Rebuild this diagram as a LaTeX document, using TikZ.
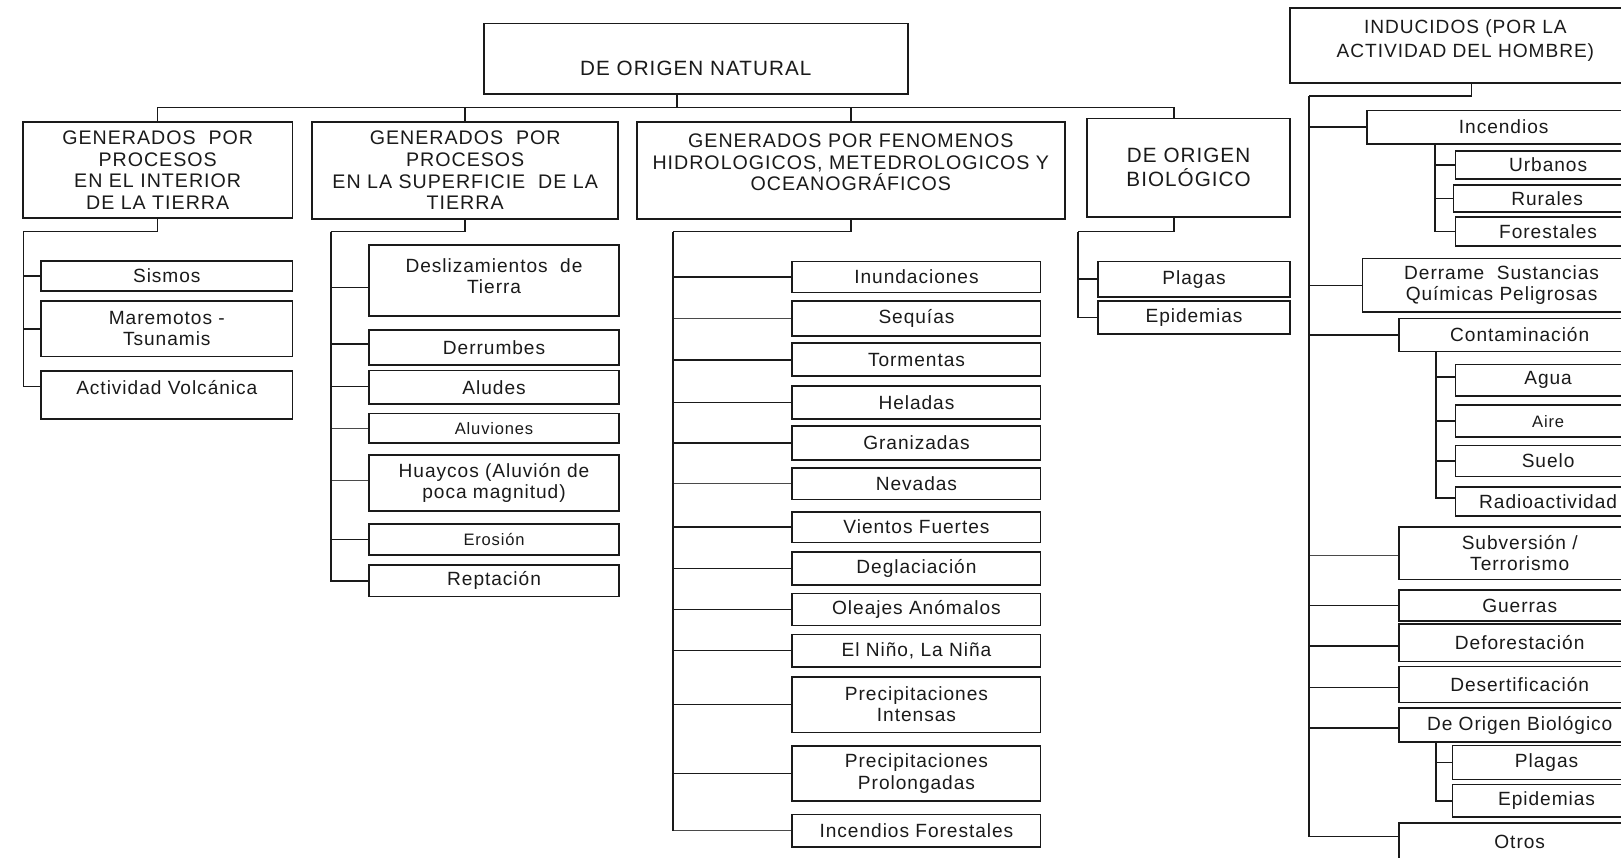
\documentclass[tikz,border=0pt]{standalone}
\usepackage{fontspec}
\setmainfont{Liberation Sans}[LetterSpace=5]
\definecolor{linec}{HTML}{1A1A1A}
\definecolor{txtc}{HTML}{1A1A1A}
\definecolor{thinc}{HTML}{4A4A4A}
\newcommand\fleaf{\fontsize{18.5}{20.5}\selectfont}
\newcommand\fsmall{\fontsize{16}{18}\selectfont}
\newcommand\fcat{\fontsize{19}{21}\selectfont}
\newcommand\fhdr{\fontsize{20}{23.5}\selectfont}
\newcommand\find{\fontsize{18.5}{23.5}\selectfont}
% #1 options, #2 name, #3 x1, #4 y1, #5 x2, #6 y2, #7 text
\newcommand\bx[7][]{\node[box,minimum width={(#5)-(#3)},minimum height={(#6)-(#4)},#1] (#2) at ({((#3)+(#5))/2},{((#4)+(#6))/2}) {#7};}
\begin{document}
\begin{tikzpicture}[x=1pt,y=-1pt,
  box/.style={draw=linec,line width=1.6pt,rectangle,inner sep=0pt,align=center,text=txtc,font=\fleaf},
  conn/.style={draw=linec,line width=1.6pt},
  thinconn/.style={draw=thinc,line width=1pt},
  lbl/.style={align=center,text=txtc,inner sep=0pt}]
\fill[white] (0,0) rectangle (1568,829);
\useasboundingbox (0,0) rectangle (1568,829);

% headers
\bx[label={[lbl,font=\fhdr,yshift=-9pt]center:DE ORIGEN NATURAL}]{nat}{468}{22.6}{878}{91}{}
\bx[label={[lbl,font=\find,yshift=4.5pt]center:{INDUCIDOS (POR LA\\ACTIVIDAD DEL HOMBRE)}}]{ind}{1248}{8}{1587}{80}{}

% categories
\bx[font=\fcat]{g1}{22}{118}{283}{211}{GENERADOS\ \ POR\\PROCESOS\\EN EL INTERIOR\\DE LA TIERRA}
\bx[font=\fcat]{g2}{302}{118}{598}{212}{GENERADOS\ \ POR\\PROCESOS\\EN LA SUPERFICIE\ \ DE LA\\TIERRA}
\bx[label={[lbl,font=\fcat,yshift=8pt]center:{GENERADOS POR FENOMENOS\\HIDROLOGICOS, METEDROLOGICOS Y\\OCEANOGRÁFICOS}}]{g3}{616}{118}{1030}{212}{}
\bx[font=\fhdr]{g4}{1051.5}{114.5}{1248}{210}{DE ORIGEN\\BIOLÓGICO}

% column 1
\bx{sis}{39.7}{252.5}{283}{281.5}{Sismos}
\bx{mar}{39.7}{291}{283}{345}{Maremotos -\\Tsunamis}
\bx[label={[lbl,font=\fleaf,yshift=7pt]center:Actividad Volcánica}]{volc}{39.7}{359}{283}{405}{}

% column 2
\bx[label={[lbl,font=\fleaf,yshift=4pt]center:{Deslizamientos\ \ de\\Tierra}}]{desl}{357}{237}{598.8}{305.7}{}
\bx{derr}{357}{319}{598.8}{353}{Derrumbes}
\bx{alud}{357}{358.5}{598.8}{391}{Aludes}
\bx[font=\fsmall]{aluv}{357}{400}{598.8}{428.7}{Aluviones}
\bx{huay}{357}{440}{598.8}{494}{Huaycos (Aluvión de\\poca magnitud)}
\bx[font=\fsmall]{eros}{357}{507}{598.8}{537}{Erosión}
\bx{rept}{357}{546.5}{598.8}{577}{Reptación}

% column 3
\bx{inu}{766.4}{253}{1006.6}{283}{Inundaciones}
\bx{seq}{766.4}{291}{1006.6}{324.7}{Sequías}
\bx{torm}{766.4}{332}{1006.6}{364}{Tormentas}
\bx{hel}{766.4}{373.4}{1006.6}{405}{Heladas}
\bx{gran}{766.4}{412}{1006.6}{445}{Granizadas}
\bx{nev}{766.4}{453}{1006.6}{483}{Nevadas}
\bx{vien}{766.4}{495}{1006.6}{524.6}{Vientos Fuertes}
\bx{degl}{766.4}{534}{1006.6}{565.6}{Deglaciación}
\bx{olea}{766.4}{574}{1006.6}{605}{Oleajes Anómalos}
\bx{nino}{766.4}{613.6}{1006.6}{645}{El Niño, La Niña}
\bx{pint}{766.4}{654.6}{1006.6}{708.4}{Precipitaciones\\Intensas}
\bx{pprol}{766.4}{721.6}{1006.6}{774.8}{Precipitaciones\\Prolongadas}
\bx{incf}{766.4}{787.7}{1006.6}{819.6}{Incendios Forestales}

% column 4
\bx{plag}{1062}{253}{1248}{287}{Plagas}
\bx{epid}{1062}{291}{1248}{323}{Epidemias}

% right column
\bx{inc}{1322}{107}{1587}{139}{Incendios}
\bx{urb}{1408}{146}{1587}{173}{Urbanos}
\bx{rur}{1406}{179}{1587}{205}{Rurales}
\bx{fore}{1408}{210}{1587}{238}{Forestales}
\bx{derra}{1318}{250}{1587}{302}{Derrame\ \ Sustancias\\Químicas Peligrosas}
\bx{cont}{1353}{308}{1587}{340}{Contaminación}
\bx{agua}{1408}{352.6}{1587}{383}{Agua}
\bx[font=\fsmall]{aire}{1408}{392}{1587}{423}{Aire}
\bx{suelo}{1408}{431}{1587}{461}{Suelo}
\bx{radio}{1408}{471}{1587}{499}{Radioactividad}
\bx{subv}{1353}{510}{1587}{560.6}{Subversión /\\Terrorismo}
\bx{guer}{1353}{570.6}{1587}{601}{Guerras}
\bx{defor}{1353}{603.6}{1587}{640}{Deforestación}
\bx{deser}{1353}{644.8}{1587}{679.5}{Desertificación}
\bx{deor}{1353}{684.8}{1587}{717.7}{De Origen Biológico}
\bx{plag2}{1405}{721}{1587}{754}{Plagas}
\bx{epid2}{1405}{759}{1587}{790}{Epidemias}
\bx{otros}{1353}{796}{1587}{832}{Otros}

% main bus
\coordinate (bus) at (655,104);
\draw[conn] ([xshift=-18pt]nat.south) -- (bus);
\draw[conn] (bus) -| (g1.north);
\draw[conn] (bus) -| (g2.north);
\draw[conn] (bus) -| (g3.north);
\draw[conn] (bus) -| ([xshift=-14pt]g4.north);

% column 1 connectors
\coordinate (c1) at (22.6,224);
\draw[conn] (g1.south) |- (c1);
\draw[conn] (c1) |- (sis.west);
\draw[conn] (c1) |- (mar.west);
\draw[conn] (c1) |- ([yshift=8pt]volc.west);

% column 2 connectors
\coordinate (c2) at (320,224);
\draw[conn] (g2.south) |- (c2);
\draw[conn] (c2) |- ([yshift=-6.6pt]desl.west);
\draw[conn] (c2) |- ([yshift=3pt]derr.west);
\draw[conn] (c2) |- ([yshift=1pt]alud.west);
\draw[thinconn] (c2) |- (aluv.west);
\draw[thinconn] (c2) |- ([yshift=2pt]huay.west);
\draw[conn] (c2) |- (eros.west);
\draw[conn] (c2) |- (rept.west);

% column 3 connectors
\coordinate (c3) at (651,224);
\draw[conn] (g3.south) |- (c3);
\draw[conn] (c3) |- (inu.west);
\draw[thinconn] (c3) |- (seq.west);
\draw[conn] (c3) |- (torm.west);
\draw[conn] (c3) |- (hel.west);
\draw[conn] (c3) |- (gran.west);
\draw[thinconn] (c3) |- (nev.west);
\draw[conn] (c3) |- (vien.west);
\draw[conn] (c3) |- (degl.west);
\draw[conn] (c3) |- (olea.west);
\draw[conn] (c3) |- (nino.west);
\draw[conn] (c3) |- (pint.west);
\draw[conn] (c3) |- (pprol.west);
\draw[thinconn] (c3) |- (incf.west);
\draw[conn] (c3) -- (c3 |- incf.west);

% column 4 connectors
\coordinate (c4) at (1043,224);
\draw[conn] ([xshift=-14pt]g4.south) |- (c4);
\draw[conn] (c4) |- (plag.west);
\draw[conn] (c4) |- (epid.west);

% right column connectors
\coordinate (cR) at (1266,93);
\draw[conn] ([xshift=6pt]ind.south) |- (cR);
\draw[conn] (cR) |- (inc.west);
\draw[conn] (cR) |- (derra.west);
\draw[conn] (cR) |- (cont.west);
\draw[thinconn] (cR) |- ([yshift=-2pt]subv.west);
\draw[conn] (cR) |- (guer.west);
\draw[conn] (cR) |- ([yshift=-3pt]defor.west);
\draw[conn] (cR) |- ([yshift=-3pt]deser.west);
\draw[conn] (cR) |- ([yshift=-3pt]deor.west);
\draw[conn] (cR) |- ([yshift=5pt]otros.west);

\draw[conn] ([xshift=67pt]inc.south west) |- (urb.west);
\draw[conn] ([xshift=67pt]inc.south west) |- (rur.west);
\draw[conn] ([xshift=67pt]inc.south west) |- (fore.west);

\draw[conn] ([xshift=37pt]cont.south west) |- ([yshift=3pt]agua.west);
\draw[conn] ([xshift=37pt]cont.south west) |- (aire.west);
\draw[conn] ([xshift=37pt]cont.south west) |- (suelo.west);
\draw[conn] ([xshift=37pt]cont.south west) |- ([yshift=3pt]radio.west);

\draw[conn] ([xshift=37pt]deor.south west) |- (plag2.west);
\draw[conn] ([xshift=37pt]deor.south west) |- (epid2.west);
\end{tikzpicture}
\end{document}
